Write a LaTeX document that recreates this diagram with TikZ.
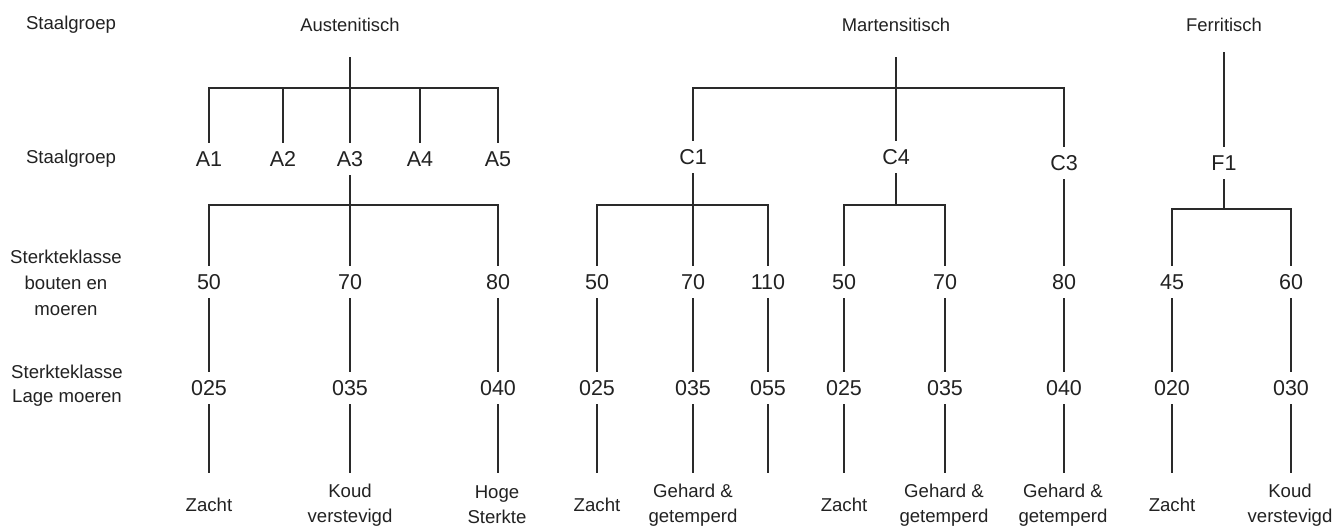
\documentclass[tikz,border=0pt]{standalone}
\usepackage{fontspec}
\setmainfont{Liberation Sans}
\definecolor{txt}{HTML}{222222}
\definecolor{ln}{HTML}{2a2a2a}
\begin{document}
\begin{tikzpicture}[x=1pt,y=-1pt,
  every node/.style={inner sep=0pt,text=txt},
  head/.style={font=\fontsize{18.4}{22}\selectfont, minimum height=64pt},
  rowlbl/.style={font=\fontsize{21.5}{25}\selectfont, minimum height=32pt},
  sidelbl/.style={font=\fontsize{18.6}{26}\selectfont, align=center},
  leaf/.style={font=\fontsize{18.6}{25}\selectfont, align=center, minimum height=64pt},
  conn/.style={draw=ln, line width=1.2pt}]
\fill[white] (0,0) rectangle (1335,529);
\useasboundingbox (0,0) rectangle (1335,529);

% side labels
\node[sidelbl] (s1) at (71,25) {Staalgroep};
\node[sidelbl] (s2) at (71,159) {Staalgroep};
\node[sidelbl] (s3) at (66,283) {Sterkteklasse\\bouten en\\moeren};
\node[sidelbl, font=\fontsize{18.6}{24}\selectfont] (s4) at (67,386) {Sterkteklasse\\Lage moeren};

% heads
\node[head] (aus) at (350,25) {Austenitisch};
\node[head] (mar) at (896,25) {Martensitisch};
\node[head, minimum height=54pt] (fer) at (1224,25) {Ferritisch};

% row 2
\node[rowlbl] (A1) at (209,159) {A1};
\node[rowlbl] (A2) at (283,159) {A2};
\node[rowlbl] (A3) at (350,159) {A3};
\node[rowlbl] (A4) at (420,159) {A4};
\node[rowlbl] (A5) at (498,159) {A5};
\node[rowlbl] (C1) at (693,157) {C1};
\node[rowlbl] (C4) at (896,157) {C4};
\node[rowlbl] (C3) at (1064,163) {C3};
\node[rowlbl] (F1) at (1224,163) {F1};

% row 3
\node[rowlbl] (a50) at (209,282) {50};
\node[rowlbl] (a70) at (350,282) {70};
\node[rowlbl] (a80) at (498,282) {80};
\node[rowlbl] (c50) at (597,282) {50};
\node[rowlbl] (c70) at (693,282) {70};
\node[rowlbl] (c110) at (768,282) {110};
\node[rowlbl] (d50) at (844,282) {50};
\node[rowlbl] (d70) at (945,282) {70};
\node[rowlbl] (e80) at (1064,282) {80};
\node[rowlbl] (f45) at (1172,282) {45};
\node[rowlbl] (f60) at (1291,282) {60};

% row 4
\node[rowlbl] (a025) at (209,388) {025};
\node[rowlbl] (a035) at (350,388) {035};
\node[rowlbl] (a040) at (498,388) {040};
\node[rowlbl] (c025) at (597,388) {025};
\node[rowlbl] (c035) at (693,388) {035};
\node[rowlbl] (c055) at (768,388) {055};
\node[rowlbl] (d025) at (844,388) {025};
\node[rowlbl] (d035) at (945,388) {035};
\node[rowlbl] (e040) at (1064,388) {040};
\node[rowlbl] (f020) at (1172,388) {020};
\node[rowlbl] (f030) at (1291,388) {030};

% leaves
\node[leaf] (aZ) at (209,505) {Zacht};
\node[leaf] (aK) at (350,505) {Koud\\verstevigd};
\node[leaf] (aH) at (497,505) {Hoge\\Sterkte};
\node[leaf] (cZ) at (597,505) {Zacht};
\node[leaf] (cG) at (693,505) {Gehard \&\\getemperd};
\coordinate (cEnd) at (768,473);
\node[leaf] (dZ) at (844,505) {Zacht};
\node[leaf] (dG) at (944,505) {Gehard \&\\getemperd};
\node[leaf] (eG) at (1063,505) {Gehard \&\\getemperd};
\node[leaf] (fZ) at (1172,505) {Zacht};
\node[leaf] (fK) at (1290,505) {Koud\\verstevigd};

% Austenitisch tree
\coordinate (jA) at (350,88);
\draw[conn] (aus.south) -- (A3.north);
\draw[conn] (A1.north) -- (A1.north |- jA) -- (A5.north |- jA) -- (A5.north);
\draw[conn] (A2.north) -- (A2.north |- jA);
\draw[conn] (A4.north) -- (A4.north |- jA);
\coordinate (jA2) at (350,205);
\draw[conn] (A3.south) -- (a70.north);
\draw[conn] (a50.north) -- (a50.north |- jA2) -- (a80.north |- jA2) -- (a80.north);

% Martensitisch tree
\coordinate (jM) at (896,88);
\draw[conn] (mar.south) -- (C4.north);
\draw[conn] (C1.north) -- (C1.north |- jM) -- (C3.north |- jM) -- (C3.north);
\coordinate (jC1) at (693,205);
\draw[conn] (C1.south) -- (c70.north);
\draw[conn] (c50.north) -- (c50.north |- jC1) -- (c110.north |- jC1) -- (c110.north);
\coordinate (jC4) at (896,205);
\draw[conn] (C4.south) -- (jC4);
\draw[conn] (d50.north) -- (d50.north |- jC4) -- (d70.north |- jC4) -- (d70.north);
\draw[conn] (C3.south) -- (e80.north);

% Ferritisch tree
\draw[conn] (fer.south) -- (F1.north);
\coordinate (jF) at (1224,209);
\draw[conn] (F1.south) -- (jF);
\draw[conn] (f45.north) -- (f45.north |- jF) -- (f60.north |- jF) -- (f60.north);

% row 3 to row 4
\foreach \u/\v in {a50/a025,a70/a035,a80/a040,c50/c025,c70/c035,c110/c055,d50/d025,d70/d035,e80/e040,f45/f020,f60/f030}
  \draw[conn] (\u.south) -- (\v.north);

% row 4 to leaves
\foreach \u/\v in {a025/aZ,a035/aK,a040/aH,c025/cZ,c035/cG,d025/dZ,d035/dG,e040/eG,f020/fZ,f030/fK}
  \draw[conn] (\u.south) -- (\u.south |- \v.north);
\draw[conn] (c055.south) -- (cEnd);
\end{tikzpicture}
\end{document}
